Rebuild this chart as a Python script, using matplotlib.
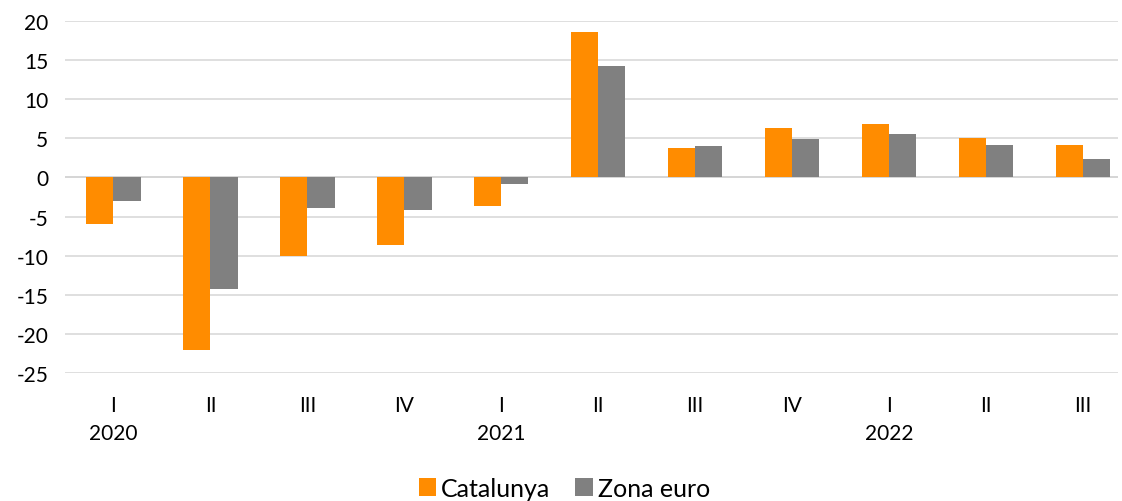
import numpy as np
import matplotlib.pyplot as plt

quarters = ['I', 'II', 'III', 'IV', 'I', 'II', 'III', 'IV', 'I', 'II', 'III']
years = {0: '2020', 4: '2021', 8: '2022'}
catalunya = [-6.0, -22.0, -10.0, -8.7, -3.7, 18.6, 3.8, 6.3, 6.8, 5.0, 4.2]
zona_euro = [-3.0, -14.3, -3.9, -4.2, -0.9, 14.2, 4.0, 4.9, 5.6, 4.2, 2.4]

plt.rcParams['font.family'] = ['Lato', 'DejaVu Sans']
plt.rcParams['axes.unicode_minus'] = False

fig = plt.figure(figsize=(11.22, 5.02), dpi=100)
ax = fig.add_axes([65 / 1122, 1 - 374 / 502, 1053 / 1122, 352 / 502])

x = np.arange(len(quarters))
w = 0.28
ax.bar(x - w / 2, catalunya, w, color='#FF8C00', label='Catalunya', zorder=3)
ax.bar(x + w / 2, zona_euro, w, color='#808080', label='Zona euro', zorder=3)

ax.set_xlim(-0.5, len(quarters) - 0.64)
ax.set_ylim(-25, 20)
ax.set_yticks(range(-25, 21, 5))
ax.grid(axis='y', color='#d9d9d9', linewidth=1.2, zorder=0)
ax.axhline(0, color='#bfbfbf', linewidth=1.2, zorder=1)
for s in ax.spines.values():
    s.set_visible(False)

ax.set_xticks(x)
ax.set_xticklabels(quarters, fontsize=15)
ax.tick_params(axis='x', length=0, pad=16)
ax.tick_params(axis='y', length=0, labelsize=15, pad=12)
for i, yr in years.items():
    ax.text(i, -0.17, yr, transform=ax.get_xaxis_transform(), ha='center', va='center', fontsize=15)

fig.legend(loc='center', bbox_to_anchor=(0.503, 0.025), ncol=2, frameon=False,
           fontsize=18, handlelength=0.7, handleheight=0.7, handletextpad=0.2, columnspacing=1.0)

fig.savefig('out.png', dpi=100)
